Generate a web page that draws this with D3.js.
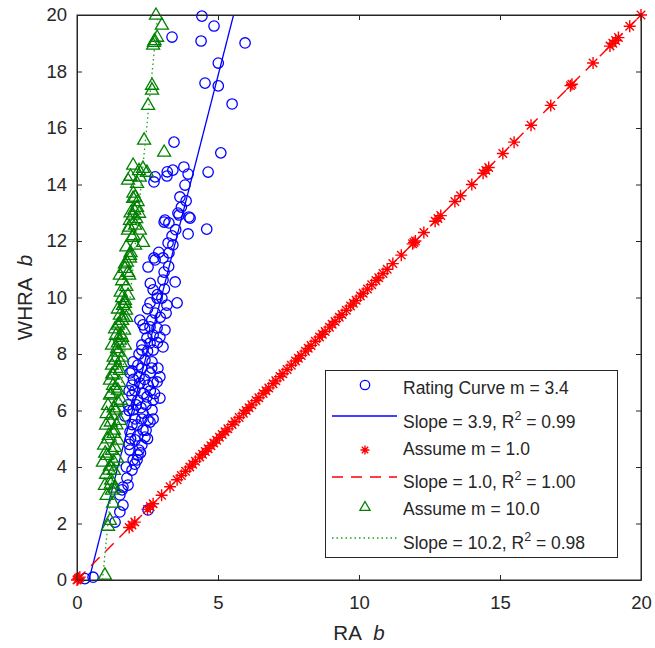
<!DOCTYPE html>
<html><head><meta charset="utf-8">
<script src="https://cdn.jsdelivr.net/npm/d3@7"></script>
<style>
body{margin:0;background:#fff;}
svg{display:block;font-family:"Liberation Sans",Arial,sans-serif;}
</style></head>
<body><svg id="chart" width="655" height="648"></svg>
<script>
// ---- data ----
const xTicks = [0, 5, 10, 15, 20];
const yTicks = [0, 2, 4, 6, 8, 10, 12, 14, 16, 18, 20];

const ratingX = [4.43,4.86,3.37,4.40,5.96,5.01,4.54,5.01,5.50,3.44,5.10,3.79,3.40,4.65,3.19,3.94,2.77,2.73,3.83,3.65,3.87,3.58,3.97,3.12,3.62,4.01,3.09,3.26,4.60,3.94,3.37,3.23,3.40,2.73,3.05,3.26,2.52,2.77,3.09,3.05,3.48,2.70,2.84,2.59,3.01,3.19,3.55,2.77,3.16,2.23,2.34,2.59,2.84,3.12,2.70,2.48,2.94,2.30,2.59,3.05,2.30,2.70,1.99,2.16,2.41,2.66,2.87,1.88,2.59,2.94,1.95,2.23,2.52,2.84,2.94,1.95,2.16,2.48,2.70,1.99,2.34,2.66,2.52,2.59,2.13,2.34,1.88,2.06,2.30,2.41,1.88,2.16,1.99,2.13,1.95,1.77,1.81,1.60,1.63,1.52,1.63,1.52,1.35,2.52,0.57,0.28,1.70,1.81,2.06,2.27,2.45,2.20,1.90,2.60,2.20,1.85,2.00,2.40,2.70,
  1.75,2.05,2.25,1.85,2.15,2.50,1.95,2.30,2.70,1.85,2.10,2.45,2.75,2.05,2.35,1.95,2.30,2.65,2.20,2.50,2.85,2.40,2.65,2.95,2.50,2.85,3.10,2.60,3.25,2.90,3.50,3.70,3.20];
const ratingY = [19.96,19.61,19.22,19.08,19.01,18.30,17.59,17.49,16.85,15.50,15.12,14.62,14.51,14.44,14.30,14.37,14.27,14.09,13.98,13.56,13.42,12.99,12.85,12.74,12.92,12.81,12.67,12.64,12.42,12.25,12.18,11.93,11.86,11.40,11.40,11.58,11.08,11.33,10.90,10.62,10.55,10.27,9.98,9.81,9.98,9.73,9.81,9.45,9.45,9.20,9.03,8.96,8.92,8.85,8.67,8.57,8.60,8.32,8.39,8.25,8.14,8.14,7.72,7.61,7.79,7.72,7.50,7.33,7.33,7.19,6.90,6.97,6.90,7.01,6.44,6.55,6.37,6.48,6.37,6.02,5.91,6.02,5.66,5.59,5.49,5.31,5.24,4.96,4.78,5.06,4.60,4.42,4.25,4.25,3.89,3.61,3.36,3.19,3.29,3.01,2.65,2.41,2.05,2.48,0.10,0.05,5.80,6.20,5.70,6.10,5.30,4.60,5.00,6.70,7.20,6.70,7.10,7.10,7.00,
  4.00,4.10,4.50,4.80,5.10,5.00,5.50,5.70,5.70,6.00,6.20,6.20,6.60,6.70,6.60,7.40,7.50,7.50,8.00,8.10,8.40,8.90,9.20,9.30,9.60,10.10,10.30,10.50,11.10,11.60,12.40,13.20,14.45];

const assume1X = [0,0.03,0.06,0.1,1.85,1.95,2.05,2.5,2.6,2.7,3.0,3.3,3.55,3.7,3.85,4.0,4.1,4.2,4.35,4.45,4.55,4.65,4.75,4.85,4.95,5.05,5.15,5.25,5.35,5.5,5.6,5.75,5.9,6.0,6.1,6.2,6.35,6.45,6.6,6.7,6.8,6.95,7.05,7.2,7.3,7.45,7.6,7.75,7.85,7.95,8.1,8.2,8.3,8.45,8.6,8.7,8.8,8.95,9.05,9.15,9.3,9.4,9.55,9.7,9.8,9.9,10.05,10.15,10.3,10.45,10.6,10.7,10.85,11.0,11.2,11.5,11.9,11.95,12.0,12.3,12.7,12.8,12.9,13.4,13.6,14.0,14.4,14.5,14.6,15.1,15.5,16.1,16.8,17.5,17.55,18.3,18.9,19.0,19.1,19.2,19.6,20.0];
const assume1Y = [0,0.03,0.06,0.1,1.86,1.95,2.05,2.5,2.6,2.7,3.0,3.3,3.55,3.7,3.85,4.0,4.1,4.2,4.35,4.45,4.55,4.65,4.75,4.85,4.95,5.05,5.15,5.25,5.35,5.5,5.6,5.75,5.9,6.0,6.1,6.2,6.35,6.45,6.6,6.7,6.8,6.95,7.05,7.2,7.3,7.45,7.6,7.75,7.85,7.95,8.1,8.2,8.3,8.45,8.6,8.7,8.8,8.95,9.05,9.15,9.3,9.4,9.55,9.7,9.8,9.9,10.05,10.15,10.3,10.45,10.6,10.7,10.85,11.0,11.2,11.5,11.9,11.95,12.0,12.3,12.7,12.8,12.9,13.4,13.6,14.0,14.4,14.5,14.6,15.1,15.5,16.1,16.8,17.5,17.55,18.3,18.9,19.0,19.1,19.2,19.6,20.0];

const assume10X = [2.80,3.01,2.84,2.73,2.70,2.75,2.66,2.66,2.52,2.38,3.09,1.99,2.34,2.48,2.23,1.81,2.13,2.06,2.03,1.99,2.13,1.99,2.20,1.88,2.06,1.81,2.23,1.95,2.34,2.06,1.88,1.88,1.77,1.70,1.81,1.52,1.81,1.70,1.63,1.74,1.52,1.60,1.45,1.67,1.38,1.52,1.24,1.70,1.45,1.35,1.24,1.52,1.28,1.17,1.60,1.75,1.55,1.42,1.60,1.28,1.45,1.17,1.56,1.10,1.38,1.24,1.52,1.03,1.31,1.13,1.45,0.96,1.24,1.06,1.42,0.92,1.17,1.31,1.03,1.21,0.99,1.35,1.24,1.28,1.17,1.10,0.99,
  1.05,1.20,1.15,1.30,1.00,1.35,1.10,1.30,1.20,1.40,1.05,1.30,1.45,1.20,1.35,1.50,1.25,1.40,1.55,1.30,1.45,1.60,1.35,1.50,1.65,1.45,1.70,1.55,1.75,1.60,1.85,1.70,1.90,1.75,2.00,1.85,2.10,1.90,2.15,2.00,1.90,2.20];
const assume10Y = [20.0,19.65,19.22,19.04,18.94,19.10,17.52,17.35,16.81,15.58,15.15,14.69,14.58,14.44,14.27,14.16,14.05,13.56,13.10,13.52,13.20,12.92,12.99,12.74,12.57,12.39,12.39,12.14,11.96,11.86,11.50,11.40,11.26,11.04,10.90,10.80,10.09,9.91,9.73,9.56,9.38,9.20,9.03,8.85,8.67,8.50,8.32,8.32,8.07,7.79,7.61,7.43,7.26,7.08,10.00,9.30,8.70,8.20,7.90,6.90,6.73,6.55,6.37,6.19,6.02,5.84,5.66,5.49,5.31,5.13,4.96,4.78,4.60,4.42,4.32,4.18,4.04,3.89,3.75,3.54,3.36,3.26,3.19,2.73,2.12,1.91,0.18,
  3.00,3.40,3.90,4.20,4.50,4.70,5.00,5.20,5.60,5.50,5.90,6.10,6.30,6.60,6.80,7.00,7.30,7.50,7.70,7.90,8.40,8.60,8.90,9.10,9.30,9.60,9.80,10.20,10.40,10.60,10.80,11.20,11.60,11.80,12.20,12.50,12.80,13.00,13.40,13.70,14.30,14.50];

// fitted lines: slope and intercept
const fitSlopes = [3.9, 1.0, 10.2];
const fitIntercepts = [-1.65, 0.0, -9.2];

const legendLabels = ["Rating Curve m = 3.4", "Slope = 3.9, R", "Assume m = 1.0", "Slope = 1.0, R", "Assume m = 10.0", "Slope = 10.2, R"];
const legendTails = ["", " = 0.99", "", " = 1.00", "", " = 0.98"];

// ---- layout ----
const svg = d3.select("#chart");
const L = 77, R = 641, T = 15, B = 580;
const x = d3.scaleLinear().domain([0, 20]).range([L, R]);
const y = d3.scaleLinear().domain([0, 20]).range([B, T]);
const axisCol = "#262626";
const BLUE = "#0000ff", RED = "#ff0000", GREEN = "#008000", LGREEN = "#20a020";
const FONT = "'Liberation Sans',Arial,sans-serif";

svg.append("defs").append("clipPath").attr("id", "clip")
  .append("rect").attr("x", L).attr("y", T).attr("width", R - L).attr("height", B - T);

const tl = 5;
const gx = svg.append("g").attr("transform", `translate(0,${B})`)
  .call(d3.axisBottom(x).tickValues(xTicks).tickFormat(d3.format("d")).tickSizeInner(-tl).tickSizeOuter(0).tickPadding(16));
const gxt = svg.append("g").attr("transform", `translate(0,${T})`)
  .call(d3.axisTop(x).tickValues(xTicks).tickFormat("").tickSizeInner(-tl).tickSizeOuter(0));
const gy = svg.append("g").attr("transform", `translate(${L},0)`)
  .call(d3.axisLeft(y).tickValues(yTicks).tickFormat(d3.format("d")).tickSizeInner(-tl).tickSizeOuter(0).tickPadding(10));
const gyr = svg.append("g").attr("transform", `translate(${R},0)`)
  .call(d3.axisRight(y).tickValues(yTicks).tickFormat("").tickSizeInner(-tl).tickSizeOuter(0));
[gx, gxt, gy, gyr].forEach(g => {
  g.select(".domain").attr("stroke", axisCol);
  g.selectAll(".tick line").attr("stroke", axisCol);
  g.selectAll(".tick text").attr("fill", axisCol).style("font-size", "18.5px").style("font-family", FONT);
});

// axis labels
const xl = svg.append("text").attr("x", (L + R) / 2).attr("y", 640).attr("text-anchor", "middle")
  .attr("fill", axisCol).style("font-size", "20.5px");
xl.append("tspan").text("RA\u00a0\u00a0");
xl.append("tspan").attr("font-style", "italic").text("b");
const yl = svg.append("text").attr("transform", `translate(32,${(T + B) / 2}) rotate(-90)`)
  .attr("text-anchor", "middle").attr("fill", axisCol).style("font-size", "20.5px");
yl.append("tspan").text("WHRA\u00a0\u00a0");
yl.append("tspan").attr("font-style", "italic").text("b");

// marker paths
const starPath = s => { const a = s * 0.7071; return `M${-s},0L${s},0M0,${-s}L0,${s}M${-a},${-a}L${a},${a}M${-a},${a}L${a},${-a}`; };
const triPath = k => `M0,${-7 * k}L${6.5 * k},${4.2 * k}L${-6.5 * k},${4.2 * k}Z`;

function fitLine(i, color, dash, w) {
  const m = fitSlopes[i], c = fitIntercepts[i];
  const x0 = Math.max(0, -c / m), x1 = Math.min(20, (20 - c) / m);
  svg.append("line").attr("clip-path", "url(#clip)")
    .attr("x1", x(x0)).attr("y1", y(m * x0 + c)).attr("x2", x(x1)).attr("y2", y(m * x1 + c))
    .attr("stroke", color).attr("stroke-width", w).attr("stroke-dasharray", dash);
}

// series 1
const rating = ratingX.map((v, i) => [v, ratingY[i]]);
svg.append("g").selectAll("circle").data(rating).join("circle")
  .attr("cx", d => x(d[0])).attr("cy", d => y(d[1])).attr("r", 5.2)
  .attr("fill", "none").attr("stroke", BLUE).attr("stroke-width", 1.3);
fitLine(0, BLUE, null, 1.3);

// series 2
const a1 = assume1X.map((v, i) => [v, assume1Y[i]]);
svg.append("g").selectAll("path").data(a1).join("path")
  .attr("transform", d => `translate(${x(d[0])},${y(d[1])})`).attr("d", starPath(6))
  .attr("fill", "none").attr("stroke", RED).attr("stroke-width", 1.4);
fitLine(1, RED, "12,8", 1.4);

// series 3
const a10 = assume10X.map((v, i) => [v, assume10Y[i]]);
svg.append("g").selectAll("path").data(a10).join("path")
  .attr("transform", d => `translate(${x(d[0])},${y(d[1])})`).attr("d", triPath(1))
  .attr("fill", "none").attr("stroke", GREEN).attr("stroke-width", 1.3);
fitLine(2, LGREEN, "1.5,3", 1.3);

// frame on top
svg.append("rect").attr("x", L).attr("y", T).attr("width", R - L).attr("height", B - T)
  .attr("fill", "none").attr("stroke", axisCol).attr("stroke-width", 1);

// legend
const lg = svg.append("g");
lg.append("rect").attr("x", 325.5).attr("y", 370.5).attr("width", 292).attr("height", 187)
  .attr("fill", "#fff").attr("stroke", axisCol).attr("stroke-width", 1);
const symY = [385, 416, 450, 477, 507, 538];
const txtY = [388, 422, 449, 482, 509, 543];
lg.append("circle").attr("cx", 365).attr("cy", symY[0]).attr("r", 4.7).attr("fill", "none").attr("stroke", BLUE).attr("stroke-width", 1.3);
lg.append("line").attr("x1", 332).attr("x2", 397).attr("y1", symY[1]).attr("y2", symY[1]).attr("stroke", BLUE).attr("stroke-width", 1.3);
lg.append("path").attr("transform", `translate(365,${symY[2]})`).attr("d", starPath(4.5)).attr("stroke", RED).attr("stroke-width", 1.4).attr("fill", "none");
lg.append("line").attr("x1", 332).attr("x2", 397).attr("y1", symY[3]).attr("y2", symY[3]).attr("stroke", RED).attr("stroke-width", 1.4).attr("stroke-dasharray", "11,8");
lg.append("path").attr("transform", `translate(365,${symY[4]})`).attr("d", triPath(0.78)).attr("stroke", GREEN).attr("stroke-width", 1.3).attr("fill", "none");
lg.append("line").attr("x1", 332).attr("x2", 397).attr("y1", symY[5]).attr("y2", symY[5]).attr("stroke", LGREEN).attr("stroke-width", 1.3).attr("stroke-dasharray", "1.5,3");
legendLabels.forEach((lab, i) => {
  const t = lg.append("text").attr("x", 403).attr("y", txtY[i]).attr("dy", "0.35em")
    .attr("fill", axisCol).style("font-size", "17.5px");
  t.append("tspan").text(lab);
  if (legendTails[i]) {
    t.append("tspan").attr("dy", "-8").style("font-size", "12.5px").text("2");
    t.append("tspan").attr("dy", "8").text(legendTails[i]);
  }
});
</script></body></html>
